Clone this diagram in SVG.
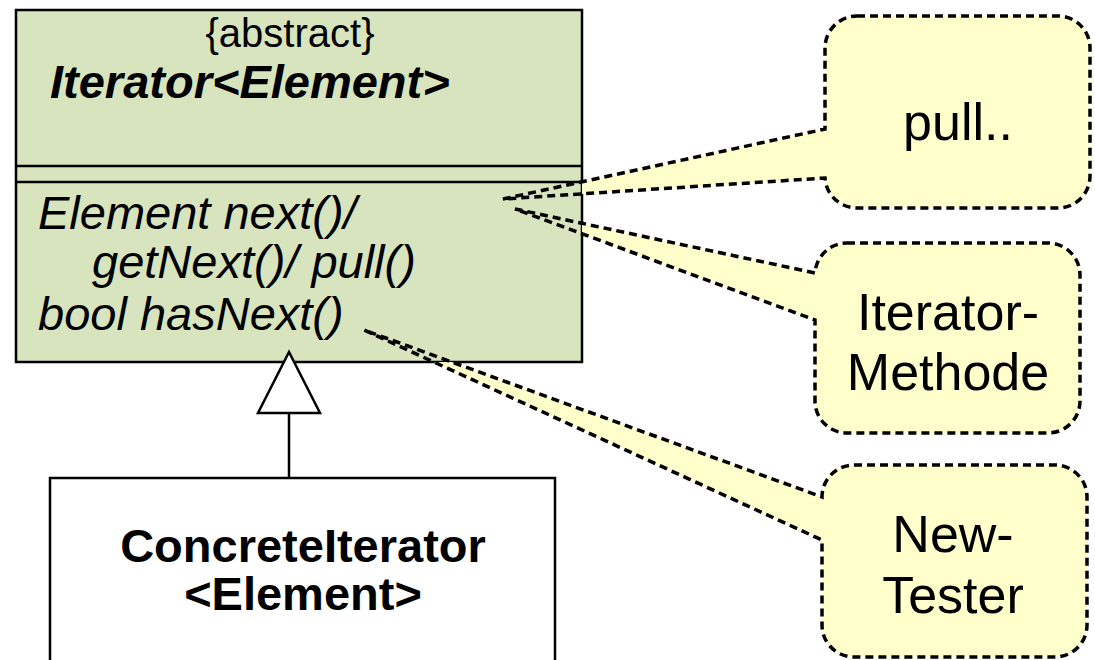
<svg xmlns="http://www.w3.org/2000/svg" width="1095" height="660" viewBox="0 0 1095 660">
<style>
.box{stroke:#000;stroke-width:2.5}
.t{font-family:"Liberation Sans",Arial,sans-serif;fill:#000}
.note-fill{fill:#ffffcc;stroke:none}
.note-line{fill:none;stroke:#000;stroke-width:3.5;stroke-dasharray:8 5}
.note-t{font-family:"Liberation Sans",Arial,sans-serif;font-size:52px;text-anchor:middle;fill:#000}
</style>
<defs>
<clipPath id="outsideBox">
<path clip-rule="evenodd" d="M0,0 H1095 V660 H0 Z M16,10 V362 H582 V10 Z"/>
</clipPath>
</defs>
<g id="iterator">
<rect class="box" x="16" y="10" width="566" height="352" fill="#d7e4bd"/>
<line class="box" x1="16" y1="166" x2="582" y2="166"/>
<line class="box" x1="16" y1="182" x2="582" y2="182"/>
<text class="t" x="290" y="47" font-size="40" text-anchor="middle">{abstract}</text>
<text class="t" x="50" y="98" font-size="47" font-weight="bold" font-style="italic">Iterator&lt;Element&gt;</text>
<text class="t" x="38" y="229" font-size="47" font-style="italic">Element next()/</text>
<text class="t" x="92" y="278" font-size="47" font-style="italic">getNext()/ pull()</text>
<text class="t" x="38" y="330" font-size="47" font-style="italic">bool hasNext()</text>
</g>
<g id="concrete">
<rect class="box" x="50" y="478" width="505" height="200" fill="#fff"/>
<text class="t" x="303" y="562" font-size="47" font-weight="bold" text-anchor="middle">ConcreteIterator</text>
<text class="t" x="303" y="610" font-size="47" font-weight="bold" text-anchor="middle">&lt;Element&gt;</text>
</g>
<g id="connectors">
<line x1="289" y1="413" x2="289" y2="478" stroke="#000" stroke-width="2.5"/>
<polygon points="289,352 320,413 258,413" fill="#fff" stroke="#000" stroke-width="2.5"/>
</g>
<g id="note-pull">
<path class="note-fill" clip-path="url(#outsideBox)" d="M857,16 H1058 A32,32 0 0 1 1090,48 V176 A32,32 0 0 1 1058,208 H857 A32,32 0 0 1 825,178 L503,199 L825,129 V48 A32,32 0 0 1 857,16 Z"/>
<path class="note-line" d="M857,16 H1058 A32,32 0 0 1 1090,48 V176 A32,32 0 0 1 1058,208 H857 A32,32 0 0 1 825,178 L503,199 L825,129 V48 A32,32 0 0 1 857,16 Z"/>
<text class="note-t" x="958" y="140">pull..</text>
</g>
<g id="note-method">
<path class="note-fill" clip-path="url(#outsideBox)" d="M847,243 H1048 A32,32 0 0 1 1080,275 V401 A32,32 0 0 1 1048,433 H847 A32,32 0 0 1 815,401 V320 L515,209 L815,273 A32,32 0 0 1 847,243 Z"/>
<path class="note-line" d="M847,243 H1048 A32,32 0 0 1 1080,275 V401 A32,32 0 0 1 1048,433 H847 A32,32 0 0 1 815,401 V320 L515,209 L815,273 A32,32 0 0 1 847,243 Z"/>
<text class="note-t" x="948" y="330">Iterator-</text>
<text class="note-t" x="948" y="390">Methode</text>
</g>
<g id="note-tester">
<path class="note-fill" clip-path="url(#outsideBox)" d="M854,465 H1055 A32,32 0 0 1 1087,497 V625 A32,32 0 0 1 1055,657 H854 A32,32 0 0 1 822,625 V540 L364,330 L822,497 A32,32 0 0 1 854,465 Z"/>
<path class="note-line" d="M854,465 H1055 A32,32 0 0 1 1087,497 V625 A32,32 0 0 1 1055,657 H854 A32,32 0 0 1 822,625 V540 L364,330 L822,497 A32,32 0 0 1 854,465 Z"/>
<text class="note-t" x="953" y="552">New-</text>
<text class="note-t" x="953" y="613">Tester</text>
</g>
</svg>
